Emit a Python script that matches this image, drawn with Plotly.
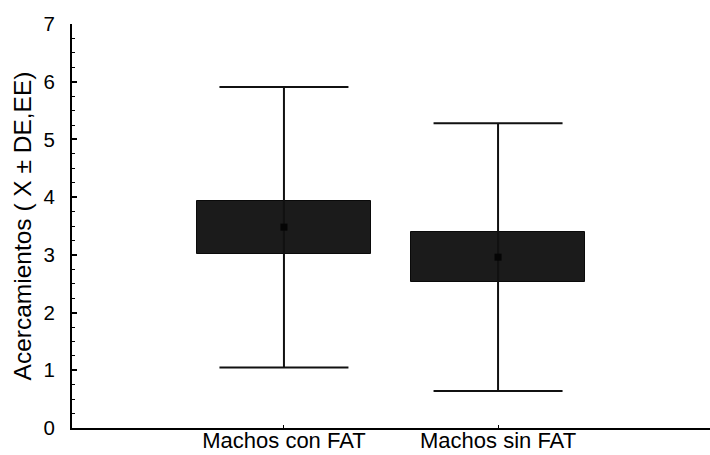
import plotly.graph_objects as go

# Group summary: mean, standard error (box) and standard deviation (whiskers)
categories = ["Machos con FAT", "Machos sin FAT"]
means = [3.48, 2.96]
se = [0.46, 0.43]
sd = [2.43, 2.32]

x_pos = list(range(len(categories)))
box_base = [m - s for m, s in zip(means, se)]
box_height = [2 * s for s in se]

font_family = "Liberation Sans, Arial, sans-serif"

fig = go.Figure()

# Mean ± SD whiskers with caps
fig.add_trace(go.Scatter(
    x=x_pos, y=means, mode="markers",
    marker=dict(color="rgba(0,0,0,0)", size=1),
    error_y=dict(type="data", array=sd, symmetric=True,
                 color="#111111", thickness=2, width=64.5),
    showlegend=False, hoverinfo="skip",
))

# Mean ± SE boxes
fig.add_trace(go.Bar(
    x=x_pos, y=box_height, base=box_base, width=0.81,
    marker=dict(color="#1b1b1b", line=dict(color="#0a0a0a", width=1)),
    showlegend=False,
))

# Mean marker
fig.add_trace(go.Scatter(
    x=x_pos, y=means, mode="markers",
    marker=dict(symbol="square", color="#050505", size=7),
    showlegend=False,
))

fig.update_layout(
    width=710, height=455,
    margin=dict(l=72, r=0, t=24, b=27),
    paper_bgcolor="white", plot_bgcolor="white",
    font=dict(family=font_family, color="black", size=20),
    bargap=0,
)

fig.update_xaxes(
    range=[-0.99, 1.99],
    tickvals=x_pos, ticktext=categories,
    ticks="inside", ticklen=3, tickwidth=1, tickcolor="black",
    showline=True, linecolor="black", linewidth=2,
    showgrid=False, zeroline=False,
    tickfont=dict(size=22),
    ticklabelstandoff=-8,
    automargin=False,
)

fig.update_yaxes(
    range=[0, 7], dtick=1,
    ticks="inside", ticklen=5, tickwidth=1.5, tickcolor="black",
    minor=dict(dtick=0.25, ticks="inside", ticklen=3, tickwidth=1, tickcolor="black"),
    showline=True, linecolor="black", linewidth=2,
    showgrid=False, zeroline=False,
    tickfont=dict(size=20.5),
    ticklabelstandoff=11,
    title=dict(text="Acercamientos ( X ± DE,EE)", font=dict(size=24.5), standoff=5),
    automargin=False,
)

fig.write_html("out.html")
